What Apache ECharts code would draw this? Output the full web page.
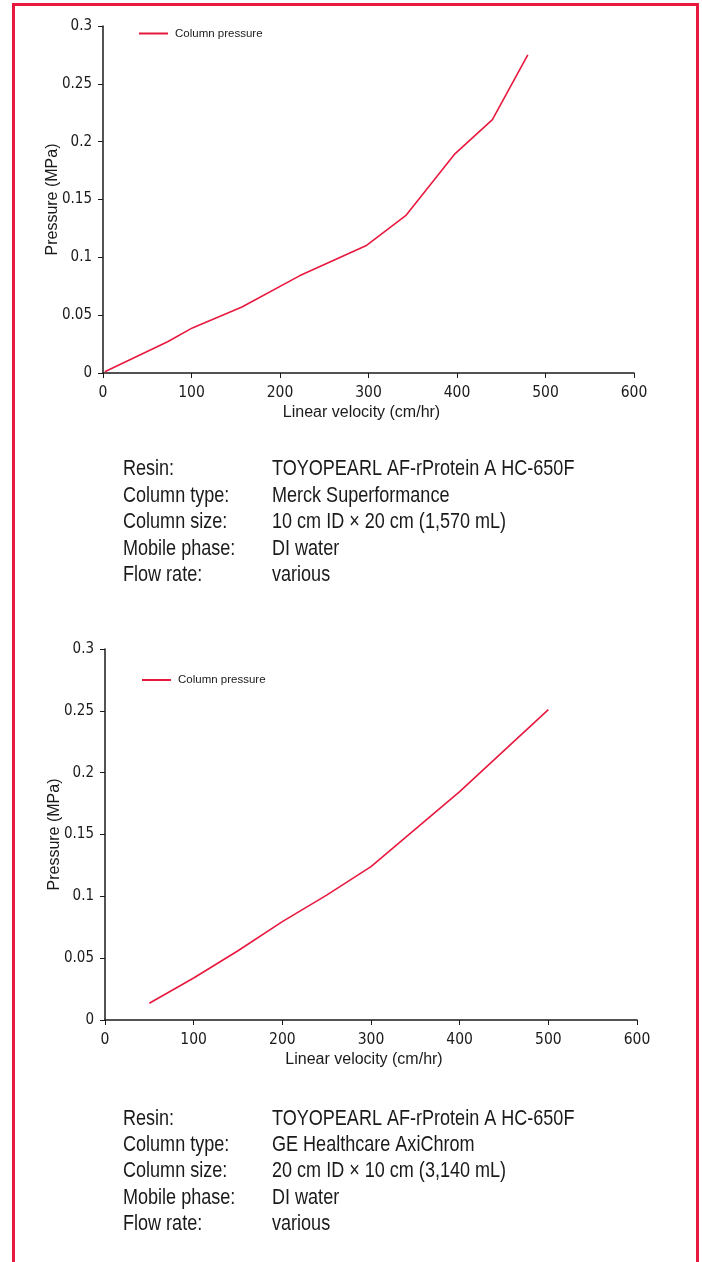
<!DOCTYPE html>
<html>
<head>
<meta charset="utf-8">
<script src="https://cdn.jsdelivr.net/npm/echarts@6/dist/echarts.min.js"></script>
<style>
html,body{margin:0;padding:0;background:#fff;overflow:hidden;width:702px;height:1262px;}
#frame{position:absolute;left:12px;top:3px;width:681px;height:1300px;border:3px solid #e8193f;}
#chart{position:absolute;left:0;top:0;width:702px;height:1262px;}
</style>
</head>
<body>
<div id="frame"></div>
<div id="chart"></div>
<script>
// ---- data ----
const seriesName = 'Column pressure';
const xAxisName = 'Linear velocity (cm/hr)';
const yAxisName = 'Pressure (MPa)';

const topVelocity = [2, 73, 101, 157, 222, 297, 342, 397, 440, 480];
const topPressure = [0.001, 0.027, 0.039, 0.057, 0.084, 0.110, 0.136, 0.189, 0.219, 0.275];

const bottomVelocity = [50, 100, 150, 200, 250, 300, 400, 500];
const bottomPressure = [0.0135, 0.034, 0.056, 0.0795, 0.101, 0.124, 0.1846, 0.251];

const xMin = 0, xMax = 600, xStep = 100;
const yMin = 0, yMax = 0.3, yStep = 0.05;

const specLabels = ['Resin:', 'Column type:', 'Column size:', 'Mobile phase:', 'Flow rate:'];
const specValuesTop = ['TOYOPEARL AF-rProtein A HC-650F', 'Merck Superformance', '10 cm ID × 20 cm (1,570 mL)', 'DI water', 'various'];
const specValuesBottom = ['TOYOPEARL AF-rProtein A HC-650F', 'GE Healthcare AxiChrom', '20 cm ID × 10 cm (3,140 mL)', 'DI water', 'various'];

// ---- styles ----
const RED = '#e8193f';
const INK = '#1a1a1a';
const NARROW = '"Liberation Sans Narrow", "Arial Narrow", "DejaVu Sans Condensed", sans-serif';
const SANS = '"Liberation Sans", Arial, sans-serif';

function zip(xs, ys) { return xs.map((x, i) => [x, ys[i]]); }

function xAxisFor(gridIndex) {
  return {
    type: 'value', gridIndex, min: xMin, max: xMax, interval: xStep,
    name: xAxisName, nameLocation: 'middle', nameGap: 32, nameMoveOverlap: false,
    nameTextStyle: { fontFamily: SANS, fontSize: 16, color: INK, padding: [0, 14, 0, 0] },
    axisLine: { show: true, onZero: false, lineStyle: { color: INK, width: 1.5 } },
    axisTick: { show: true, length: 5, lineStyle: { color: INK, width: 1 } },
    axisLabel: { margin: 12, fontFamily: NARROW, fontSize: 15.5, color: INK },
    splitLine: { show: false }
  };
}
function yAxisFor(gridIndex) {
  return {
    type: 'value', gridIndex, min: yMin, max: yMax, interval: yStep,
    name: yAxisName, nameLocation: 'middle', nameGap: 42, nameMoveOverlap: false,
    nameTextStyle: { fontFamily: SANS, fontSize: 16, color: INK },
    axisLine: { show: true, onZero: false, lineStyle: { color: INK, width: 1.5 } },
    axisTick: { show: true, length: 5, lineStyle: { color: INK, width: 1 } },
    axisLabel: { margin: 11, fontFamily: NARROW, fontSize: 15, color: INK },
    splitLine: { show: false }
  };
}
function legendAt(left, top) {
  return {
    left, top, padding: 0, orient: 'horizontal', data: [seriesName],
    icon: 'rect', itemWidth: 29, itemHeight: 2, itemGap: 10,
    selectedMode: false,
    textStyle: { fontFamily: SANS, fontSize: 11.5, color: INK, padding: [0, 0, 0, 2] }
  };
}
function specBlock(values, yc, step) {
  const out = [];
  const mk = (txt, x, y) => ({
    type: 'text', x, y, scaleX: 0.82, scaleY: 1,
    style: { text: txt, x: 0, y: 0, font: '22px ' + SANS, fill: INK,
      align: 'left', verticalAlign: 'middle', textAlign: 'left', textVerticalAlign: 'middle' }
  });
  specLabels.forEach((lab, i) => {
    out.push(mk(lab, 123, yc + i * step));
    out.push(mk(values[i], 272, yc + i * step));
  });
  return out;
}

const chart = echarts.init(document.getElementById('chart'), null, { renderer: 'canvas' });
chart.setOption({
  backgroundColor: 'transparent',
  animation: false,
  grid: [
    { left: 103, top: 26, width: 531, height: 347, containLabel: false, outerBoundsMode: 'none' },
    { left: 105, top: 649, width: 532, height: 371, containLabel: false, outerBoundsMode: 'none' }
  ],
  xAxis: [xAxisFor(0), xAxisFor(1)],
  yAxis: [yAxisFor(0), yAxisFor(1)],
  legend: [legendAt(139, 27.5), legendAt(142, 674)],
  series: [
    { name: seriesName, type: 'line', xAxisIndex: 0, yAxisIndex: 0, data: zip(topVelocity, topPressure),
      symbol: 'none', lineStyle: { color: RED, width: 1.6 }, itemStyle: { color: RED } },
    { name: seriesName, type: 'line', xAxisIndex: 1, yAxisIndex: 1, data: zip(bottomVelocity, bottomPressure),
      symbol: 'none', lineStyle: { color: RED, width: 1.6 }, itemStyle: { color: RED } }
  ],
  graphic: specBlock(specValuesTop, 469, 26.6).concat(specBlock(specValuesBottom, 1119, 26.2))
});
</script>
</body>
</html>
